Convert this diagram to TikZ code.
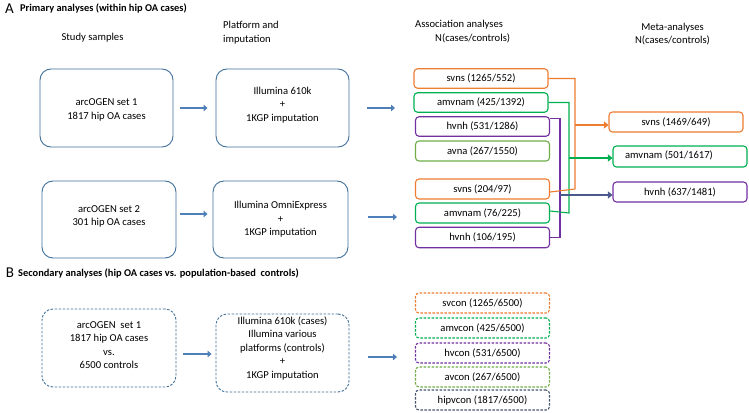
\documentclass[tikz,border=0pt]{standalone}
\usepackage{fontspec}
\setmainfont{Carlito}
\usetikzlibrary{arrows.meta}
\definecolor{boxblue}{HTML}{41719C}
\definecolor{arrblue}{HTML}{4F7FB8}
\definecolor{cor}{HTML}{ED7D31}
\definecolor{cgr}{HTML}{00B050}
\definecolor{cpu}{HTML}{7030A0}
\definecolor{clg}{HTML}{70AD47}
\definecolor{csl}{HTML}{4A5A8C}
\definecolor{cdk}{HTML}{44546A}
\begin{document}
\begin{tikzpicture}[x=1pt,y=-1pt,
 every node/.style={font=\fontsize{10.6}{13.5}\selectfont, inner sep=0pt},
 bigbox/.style={draw=boxblue, line width=0.9pt, rounded corners=11pt, minimum width=133pt, minimum height=78pt},
 txt/.style={align=center},
 sbox/.style={draw=#1, line width=1.1pt, rounded corners=3.5pt, minimum width=134pt, minimum height=19.5pt},
 dbox/.style={draw=#1, line width=1.1pt, rounded corners=3.5pt, minimum width=134pt, minimum height=19.5pt, dash pattern=on 2.5pt off 1.5pt},
 barrow/.style={draw=arrblue, line width=2.6pt, -{Triangle[length=4pt,width=6.5pt]}},
 conn/.style={draw=#1, line width=1.1pt},
 marrow/.style={draw=#1, line width=2.6pt, -{Triangle[length=4.5pt,width=7pt]}},
 bigletter/.style={font=\fontsize{15}{15}\selectfont},
 title/.style={font=\bfseries\fontsize{10.4}{12}\selectfont, anchor=west},
]
\fill[white] (0,0) rectangle (749,412);
\useasboundingbox (0,0) rectangle (749,412);

% headings
\node[bigletter] (la) at (9.5,9) {A};
\node[title] (ta) at (20,8.5) {Primary analyses (within hip OA cases)};
\node (h1) at (92.5,38) {Study samples};
\node[anchor=west, align=left] (h2) at (223,32.5) {Platform and\\imputation};
\node[anchor=west] (h3a) at (415,25) {Association analyses};
\node[anchor=west] (h3b) at (435,38) {N(cases/controls)};
\node[align=center] (h4) at (672.5,34) {Meta-analyses\\N(cases/controls)};

% big boxes A
\node[bigbox] (s1) at (106.5,108) {};
\node[txt] (s1t) at ([yshift=-2pt]s1.center) {arcOGEN set 1\\1817 hip OA cases};
\node[bigbox] (p1) at (282.5,108) {};
\node[txt] (p1t) at ([yshift=3pt]p1.center) {Illumina 610k\\+\\1KGP imputation};
\node[bigbox, minimum width=134pt, minimum height=77pt] (s2) at (109,219.5) {};
\node[txt] (s2t) at ([yshift=3pt]s2.center) {arcOGEN set 2\\301 hip OA cases};
\node[bigbox, minimum width=135pt, minimum height=77pt] (p2) at (280.5,219.5) {};
\node[txt] (p2t) at (p2.center) {Illumina OmniExpress\\+\\1KGP imputation};

% arrows A
\coordinate (c1) at (395,108);
\coordinate (c2) at (397,217);
\draw[barrow, shorten <=7pt, shorten >=8pt] (s1.east) -- (p1.west);
\draw[barrow, shorten <=18pt] (p1.east) -- (c1);
\draw[barrow, shorten <=4pt, shorten >=5pt] ([yshift=5.5pt]s2.east) -- ([yshift=5.5pt]p2.west);
\draw[barrow, shorten <=20pt] ([yshift=2.5pt]p2.east) -- (c2);

% association boxes
\node[sbox=cor] (sa) at (481,78.5) {svns (1265/552)};
\node[sbox=cgr] (ga) at (481,102.5) {amvnam (425/1392)};
\node[sbox=cpu] (ha) at (482.5,126.5) {hvnh (531/1286)};
\node[sbox=clg, minimum height=20pt] (va) at (482.5,151) {avna (267/1550)};
\node[sbox=cor, minimum height=20pt] (sb) at (482.5,189) {svns (204/97)};
\node[sbox=cgr, minimum height=20pt] (gb) at (482.5,213) {amvnam (76/225)};
\node[sbox=cpu, minimum height=20.5pt] (hb) at (482.5,237.5) {hvnh (106/195)};

% meta boxes
\node[sbox=cor, minimum height=20pt] (ms) at (676,122) {svns (1469/649)};
\node[sbox=cgr, minimum height=21pt] (mg) at (680,156.5) {};
\node (mgt) at ([xshift=-11pt,yshift=1.5pt]mg.center) {amvnam (501/1617)};
\node[sbox=cpu, minimum height=20pt] (mh) at (680,192) {hvnh (637/1481)};

% connectors
\coordinate (ox) at (575,0);
\coordinate (gx) at (569,0);
\coordinate (px) at (560,0);
\draw[conn=cpu] ([yshift=-2pt]ha.north east) -| (px |- hb.east) -- (hb.east);
\draw[conn=cgr] (ga.east) -| (gx |- gb.east) -- ([yshift=2pt]gb.east);
\draw[conn=cor] (sa.east) -| (ox |- sb.east) -- ([yshift=-3pt]sb.east);
\draw[marrow=cor] ([yshift=-3pt]ox |- ms.west) -- ([yshift=-3pt]ms.west);
\draw[marrow=cgr] ([yshift=-1.5pt]gx |- mg.west) -- ([yshift=-1.5pt]mg.west);
\draw[marrow=csl] ([yshift=-3pt]px |- mh.west) -- ([yshift=-3pt]mh.west);

% section B
\node[bigletter] (lb) at (10,273) {B};
\node[title] (tb) at (18,273) {Secondary analyses (hip OA cases vs. population-based\ \ controls)};
\node[bigbox, dash pattern=on 2.5pt off 1.5pt, minimum width=134pt] (sB) at (109,348) {};
\node[txt] (sBt) at ([yshift=3pt]sB.center) {arcOGEN\ \ set 1\\1817 hip OA cases\\vs.\\6500 controls};
\node[bigbox, dash pattern=on 2.5pt off 1.5pt] (pB) at (282.5,353) {};
\node[txt] (pBt) at ([yshift=5pt]pB.center) {Illumina 610k (cases)\\Illumina various\\platforms (controls)\\+\\1KGP imputation};
\coordinate (c3) at (397,357);
\draw[barrow, shorten <=7pt, shorten >=4pt] ([yshift=-6pt]sB.east) -- ([yshift=-1pt]pB.west);
\draw[barrow, shorten <=19pt] ([yshift=-4pt]pB.east) -- (c3);

\node[dbox=cor, minimum height=20pt] (b1) at (482.5,303) {svcon (1265/6500)};
\node[dbox=cgr, minimum height=20pt] (b2) at (482.5,328) {amvcon (425/6500)};
\node[dbox=cpu, minimum height=20pt] (b3) at (482.5,353) {hvcon (531/6500)};
\node[dbox=clg, minimum height=20pt] (b4) at (482.5,377) {avcon (267/6500)};
\node[dbox=cdk, minimum height=20pt] (b5) at (482.5,400) {hipvcon (1817/6500)};
\end{tikzpicture}
\end{document}
